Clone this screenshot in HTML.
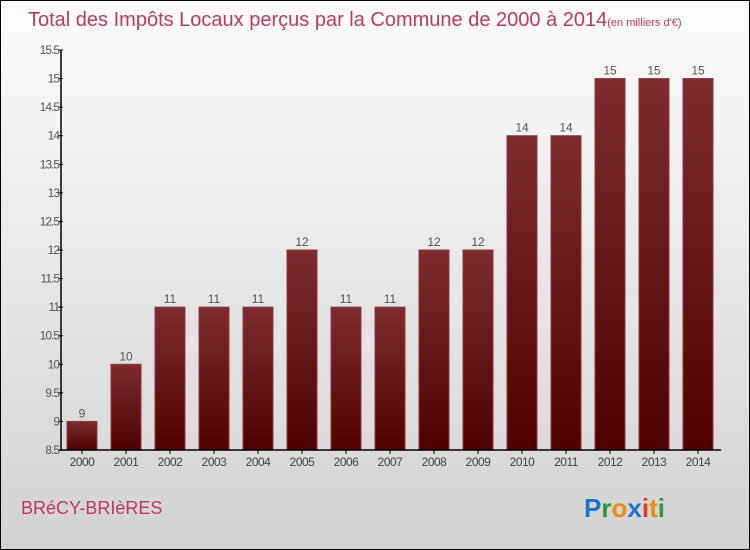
<!DOCTYPE html>
<html><head><meta charset="utf-8"><style>
body{margin:0}
#c{width:748px;height:548px;border:1px solid #000;background:linear-gradient(#fdfdfd,#f0f0f0 30%,#d2d2d2);position:relative;font-family:"Liberation Sans",sans-serif;overflow:hidden}
</style></head><body>
<div id="c">
<svg id="s" width="748" height="548">
<text x="27" y="25" font-size="20" fill="#c0385e">Total des Impôts Locaux perçus par la Commune de 2000 à 2014<tspan font-size="11">(en milliers d'€)</tspan></text>
<text x="20" y="513" font-size="18" fill="#c0385e">BRéCY-BRIèRES</text>
<text x="583" y="516" font-size="26" font-weight="bold"><tspan fill="#1a73c8">P</tspan><tspan fill="#2a9a3a">r</tspan><tspan fill="#f08a10">o</tspan><tspan fill="#1a73c8">x</tspan><tspan fill="#e03a1a">i</tspan><tspan fill="#f08a10">t</tspan><tspan fill="#2a9a3a">i</tspan></text>
<defs><linearGradient id="g" x1="0" y1="0" x2="0" y2="1"><stop offset="0" stop-color="#7e2c30"/><stop offset="1" stop-color="#4e0000"/></linearGradient></defs>
<g id="plot"></g>
</svg>
</div>
<script>
const years=["2000","2001","2002","2003","2004","2005","2006","2007","2008","2009","2010","2011","2012","2013","2014"];
const values=[9,10,11,11,11,12,11,11,12,12,14,14,15,15,15];
const yTicks=[8.5,9,9.5,10,10.5,11,11.5,12,12.5,13,13.5,14,14.5,15,15.5];
const yMin=8.5,yMax=15.5,pTop=49,pBot=449,pLeft=60,step=44,x0=81,bw=30;
const ns="http://www.w3.org/2000/svg",g=document.getElementById('plot');
const Y=v=>pBot-(v-yMin)/(yMax-yMin)*(pBot-pTop);
const X=i=>x0+i*step;
function mk(t,a){const e=document.createElementNS(ns,t);for(const k in a)e.setAttribute(k,a[k]);g.appendChild(e);return e;}
yTicks.forEach(v=>{
 const t=mk('line',{x1:pLeft-3,x2:pLeft+2,y1:Y(v),y2:Y(v),stroke:'#000'});
 
 
 const l=mk('text',{x:pLeft-2,y:Y(v)+4,'font-size':12,fill:'#555','text-anchor':'end','letter-spacing':'-1'});
 l.textContent=String(v);
 
 
});
values.forEach((v,i)=>{
 const r=mk('rect',{x:X(i)-bw/2,y:Y(v),width:bw,height:pBot-Y(v),fill:'url(#g)',stroke:'#8a3a3e','stroke-width':1});
 
 
 const t=mk('text',{x:X(i),y:Y(v)-4,'font-size':12,fill:'#555','text-anchor':'middle'});
 t.textContent=v;
 
 
 const tk=mk('line',{x1:X(i),x2:X(i),y1:pBot,y2:pBot+4,stroke:'#000'});
 
 
 const xl=mk('text',{x:X(i),y:pBot+16,'font-size':12,fill:'#444','text-anchor':'middle','letter-spacing':'-0.5'});
 xl.textContent=years[i];
 
 
});
const ya=mk('line',{x1:pLeft,x2:pLeft,y1:pTop,y2:pBot+1,stroke:'#000','stroke-width':1.5});


const xa=mk('line',{x1:pLeft,x2:720,y1:pBot,y2:pBot,stroke:'#000','stroke-width':1.5});


</script>
</body></html>
